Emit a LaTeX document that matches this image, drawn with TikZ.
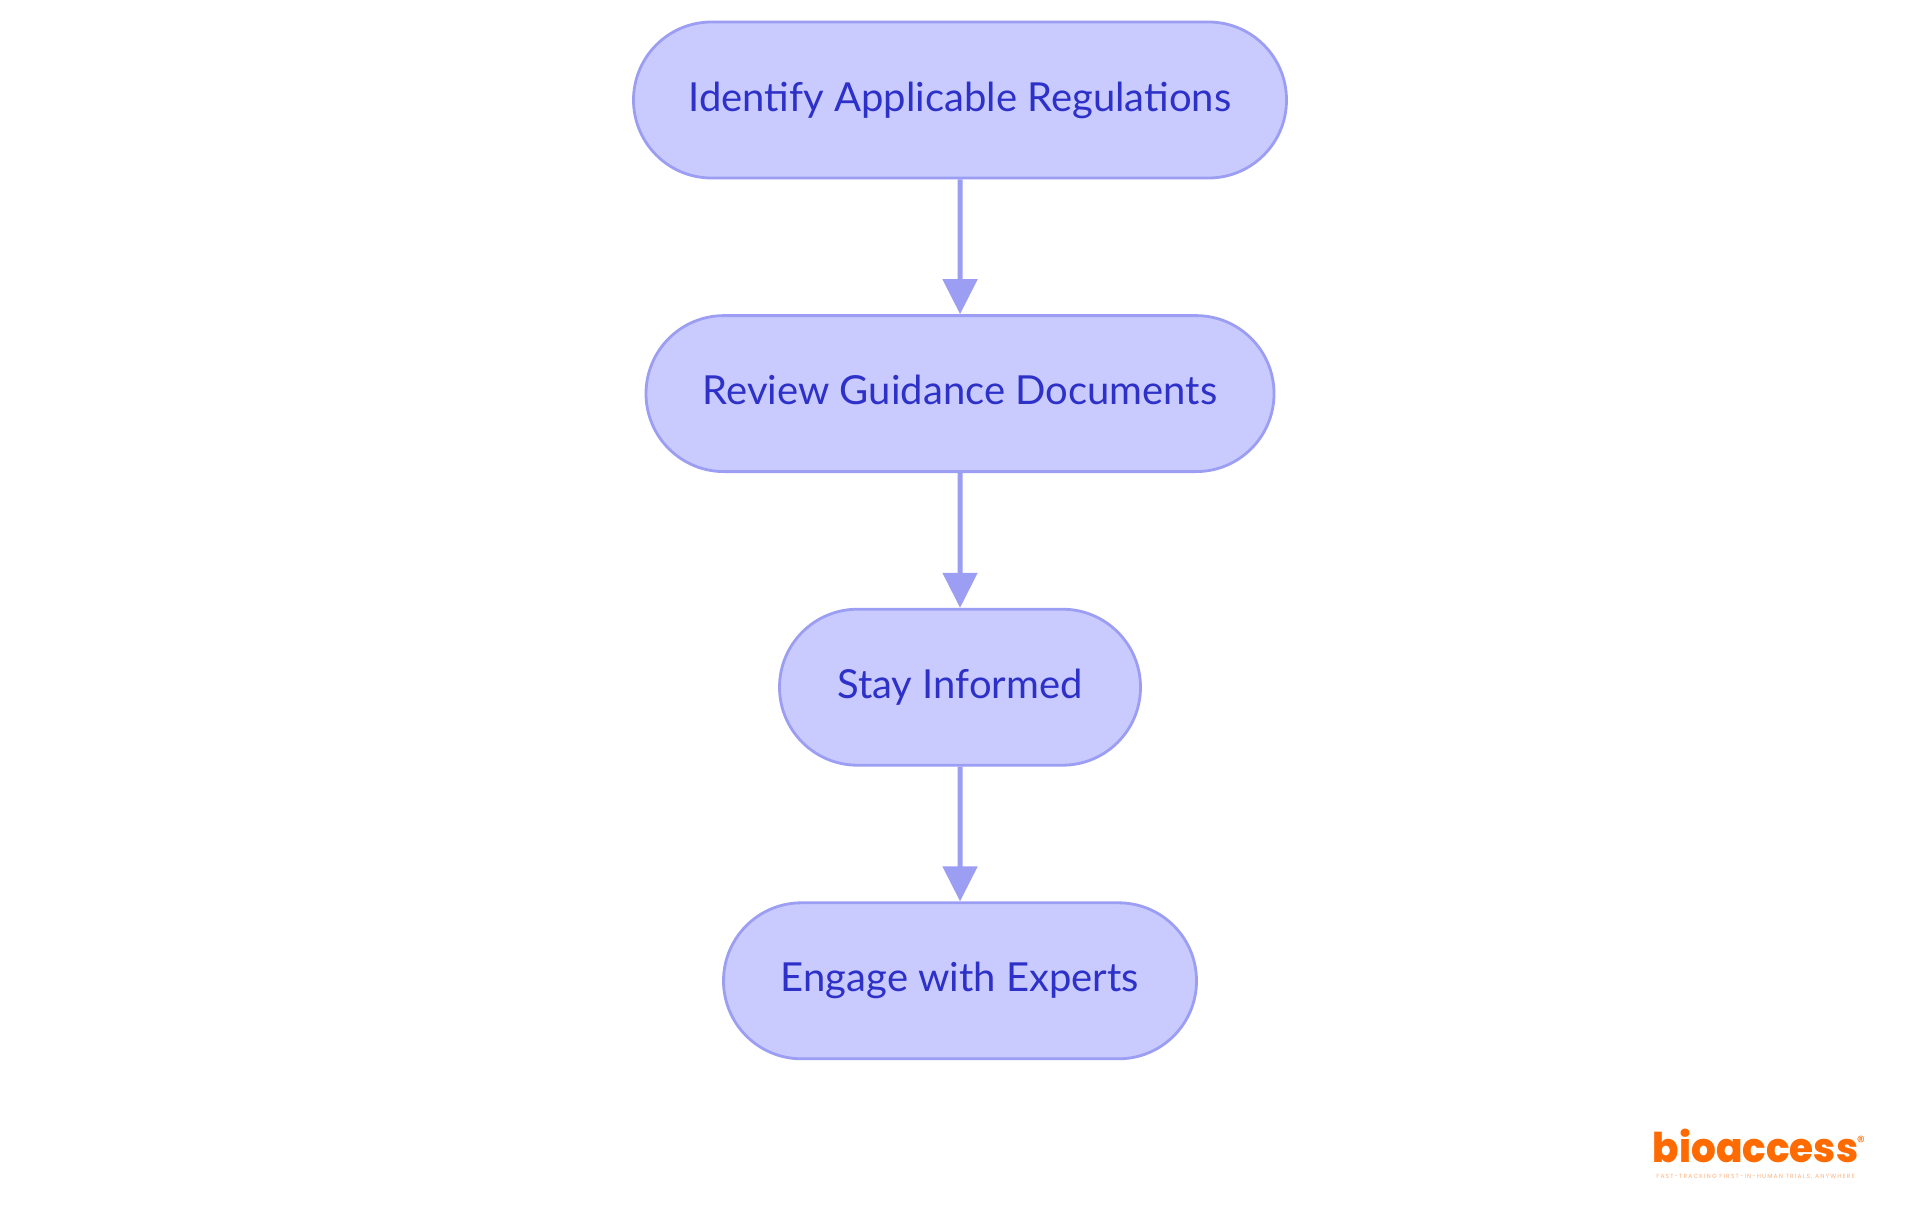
\documentclass[tikz,border=0pt]{standalone}
\usepackage{fontspec}
\setmainfont{Lato}
\newfontfamily\logofont{Poppins}[UprightFont=* ExtraBold,FakeStretch=0.95]
\newfontfamily\markfont{Poppins}
\newfontfamily\tagfont{Poppins}[LetterSpace=19]
\usetikzlibrary{positioning, arrows.meta, shapes.misc}
\definecolor{boxfill}{HTML}{C9CBFF}
\definecolor{boxline}{HTML}{9B9EF2}
\definecolor{boxtext}{HTML}{2E31C8}
\definecolor{logoorange}{HTML}{FF6B00}
\definecolor{logotag}{HTML}{FFB27F}
\tikzset{
	stepbox/.style = {rounded rectangle, draw = boxline, fill = boxfill, line width = 1.4 pt,
		text = boxtext, font = \fontsize{20}{24}\selectfont, text height = 15 pt, text depth = 4 pt,
		minimum height = 78 pt, minimum width = #1, inner sep = 0 pt},
	flow/.style = {draw = boxline, line width = 2.5 pt, -{Triangle[length=17.5pt, width=17pt]}}
}
\begin{document}
\begin{tikzpicture}[x = 0.5 pt, y = -0.5 pt]

	% Definition
	
	\def\Gap{67.4 pt}		% Space between steps
	
	% Page
	
	\useasboundingbox [fill = white] (0, 0) rectangle (1920, 1215);

	% Steps
	
	\node [stepbox = 326.5 pt] (identify) at (960, 100) {Identify Applicable Regulations};
	\node [stepbox = 314 pt, below = \Gap of identify] (review) {Review Guidance Documents};
	\node [stepbox = 180.5 pt, below = \Gap of review] (informed) {Stay Informed};
	\node [stepbox = 236.5 pt, below = \Gap of informed] (experts) {Engage with Experts};
	
	% Connectors
	
	\draw [flow] (identify) -- (review);
	\draw [flow] (review) -- (informed);
	\draw [flow] (informed) -- (experts);
	
	% Logo
	
	\node [text = logoorange, font = \logofont\fontsize{20.5}{22}\selectfont, inner sep = 0 pt, text depth = 0 pt, anchor = base] (logo) at (1755.5, 1162) {bioaccess};
	\node [text = logoorange, font = \markfont\fontsize{8}{9}\selectfont, inner sep = 0 pt] (mark) at (1861, 1142) {®};
	\node [text = logotag, font = \tagfont\fontsize{3}{4}\selectfont, inner sep = 0 pt] (tagline) at (1755.5, 1177) {FAST-TRACKING FIRST-IN-HUMAN TRIALS, ANYWHERE};

\end{tikzpicture}
\end{document}
